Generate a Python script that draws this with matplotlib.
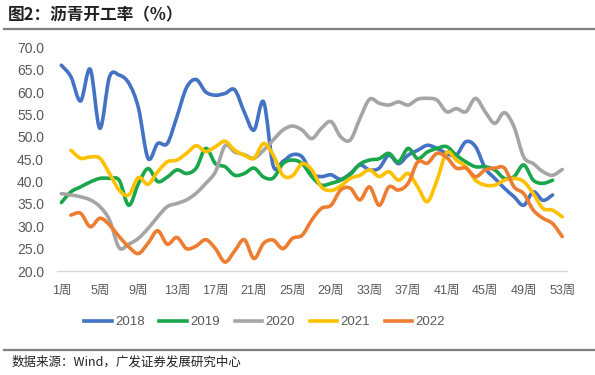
import numpy as np
import matplotlib
matplotlib.use('Agg')
import matplotlib.pyplot as plt
from matplotlib.path import Path
from matplotlib.patches import PathPatch
from matplotlib.lines import Line2D

plt.rcParams['font.family'] = ['Liberation Sans', 'Noto Sans CJK SC', 'DejaVu Sans']

nan = np.nan

# semanas (categorias do eixo x)
semanas = np.arange(1, 54)
rotulos_x = [str(s) + '周' for s in range(1, 54, 4)]

# taxa de operacao do asfalto (%) por ano
y2018 = [66.0, 63.4, 58.0, 65.1, 51.9, 63.4, 63.8, 62.0, 56.5, 45.2,
         48.5, 48.5, 54.5, 61.0, 62.8, 60.0, 59.3, 59.7, 60.5, 55.5,
         51.5, 57.8, 43.5, 44.5, 46.0, 45.5, 41.8, 41.1, 41.5, 40.5,
         41.8, 43.7, 42.6, 43.0, 45.9, 44.0, 45.9, 47.0, 48.1, 47.4,
         46.3, 45.9, 48.9, 47.8, 43.0, 40.7, 38.5, 36.6, 34.7, 37.7,
         35.8, 37.0]
y2019 = [35.3, 37.7, 38.8, 39.9, 40.7, 40.7, 40.3, 34.7, 39.5, 42.9,
         40.0, 41.0, 42.6, 41.8, 43.0, 47.4, 44.0, 43.3, 41.4, 41.8,
         43.0, 41.0, 40.8, 44.0, 44.8, 44.0, 41.1, 39.2, 39.6, 40.3,
         41.6, 43.9, 44.8, 45.1, 46.3, 44.4, 47.4, 45.1, 46.6, 47.4,
         47.8, 45.9, 44.4, 43.3, 43.3, 42.6, 40.7, 41.1, 43.7, 40.3,
         39.6, 40.3]
y2020 = [37.3, 37.0, 36.6, 35.9, 34.4, 31.4, 25.2, 26.0, 27.3, 29.5,
         32.1, 34.4, 35.1, 35.9, 37.4, 39.6, 42.2, 48.0, 46.6, 46.0,
         45.2, 47.0, 49.3, 51.5, 52.4, 51.5, 49.6, 51.9, 53.4, 50.0,
         49.3, 54.1, 58.4, 57.5, 57.1, 57.8, 57.1, 58.4, 58.6, 58.2,
         55.6, 56.3, 55.6, 58.6, 55.6, 53.0, 55.4, 52.2, 45.5, 44.0,
         42.2, 41.4, 42.7]
y2021 = [nan, 47.0, 45.2, 45.5, 45.2, 41.8, 38.1, 37.0, 40.9, 39.4,
         42.2, 44.4, 44.8, 46.3, 48.0, 46.7, 47.8, 49.0, 47.0, 45.9,
         45.2, 48.5, 45.9, 41.4, 41.3, 44.0, 42.6, 38.8, 38.0, 39.0,
         40.7, 41.4, 42.6, 41.1, 42.2, 40.3, 41.8, 38.8, 35.5, 40.3,
         46.5, 44.8, 43.3, 40.3, 39.2, 39.2, 40.3, 40.7, 40.0, 37.3,
         34.0, 33.6, 32.1]
y2022 = [nan, 32.5, 32.9, 29.9, 31.8, 30.3, 27.7, 25.4, 23.9, 26.2,
         29.0, 26.0, 27.5, 25.0, 25.6, 27.0, 25.0, 22.0, 24.5, 27.0,
         22.8, 26.2, 26.9, 25.0, 27.3, 28.0, 31.4, 34.0, 34.7, 38.1,
         38.5, 35.9, 38.8, 34.7, 38.8, 38.1, 39.6, 44.4, 44.1, 46.3,
         45.4, 43.0, 43.0, 41.1, 42.6, 43.0, 43.0, 38.8, 37.3, 33.6,
         31.8, 30.6, 27.7]

series = [('2018', y2018, '#4472C4'),
          ('2019', y2019, '#1AA64A'),
          ('2020', y2020, '#A5A5A5'),
          ('2021', y2021, '#FFC000'),
          ('2022', y2022, '#ED7D31')]


# linha suavizada (estilo excel) passando pelos pontos
def caminho_suave(x, y):
    x = np.asarray(x, float)
    y = np.asarray(y, float)
    ok = ~np.isnan(y)
    p = np.column_stack([x[ok], y[ok]])
    n = len(p)
    verts = [p[0]]
    codes = [Path.MOVETO]
    for i in range(n - 1):
        p0 = p[max(i - 1, 0)]
        p1 = p[i]
        p2 = p[i + 1]
        p3 = p[min(i + 2, n - 1)]
        verts += [p1 + (p2 - p0) / 6, p2 - (p3 - p1) / 6, p2]
        codes += [Path.CURVE4] * 3
    return Path(verts, codes)


fig = plt.figure(figsize=(5.95, 3.75), dpi=100)
ax = fig.add_axes([0.095, 0.2773, 0.858, 0.5965])

alcas = []
for nome, vals, cor in series:
    caminho = caminho_suave(semanas[:len(vals)], vals)
    ax.add_patch(PathPatch(caminho, fill=False, edgecolor=cor, lw=2.6,
                           joinstyle='round', capstyle='round'))
    alcas.append(Line2D([], [], color=cor, lw=2.6, label=nome))

ax.set_xlim(0.5, 53.5)
ax.set_ylim(20, 70)
ax.set_yticks(np.arange(20, 70.1, 5))
ax.set_yticklabels(['%.1f' % v for v in np.arange(20, 70.1, 5)])
ax.set_xticks(range(1, 54, 4))
ax.set_xticklabels(rotulos_x)

for lado in ['top', 'right', 'left']:
    ax.spines[lado].set_visible(False)
ax.spines['bottom'].set_color('#D9D9D9')
ax.spines['bottom'].set_linewidth(1.0)
ax.tick_params(axis='y', length=0, pad=9, labelsize=10, labelcolor='#595959')
ax.tick_params(axis='x', length=0, pad=10, labelsize=9, labelcolor='#595959')

# legenda
fig.legend(handles=alcas, loc='center', bbox_to_anchor=(0.445, 0.141), ncol=5,
           frameon=False, fontsize=9.5, handlelength=2.1, handletextpad=0.25,
           columnspacing=1.1, labelcolor='#595959')

# titulo e fonte
fig.text(0.013, 0.96, '图2：沥青开工率（%）', fontsize=12, fontweight='bold',
         va='center', ha='left', color='#222222',
         family=['Noto Sans CJK SC', 'DejaVu Sans'])
fig.add_artist(plt.Line2D([0.007, 1.0], [1 - 29 / 375, 1 - 29 / 375],
                          color='#7F7F7F', lw=1.6))
fig.add_artist(plt.Line2D([0.007, 1.0], [1 - 350 / 375, 1 - 350 / 375],
                          color='#7F7F7F', lw=1.6))
fig.text(0.02, 1 - 362 / 375, '数据来源：Wind，广发证券发展研究中心', fontsize=9,
         va='center', ha='left', color='#222222',
         family=['Noto Sans CJK SC', 'DejaVu Sans'])

fig.savefig('out.png', dpi=100)
